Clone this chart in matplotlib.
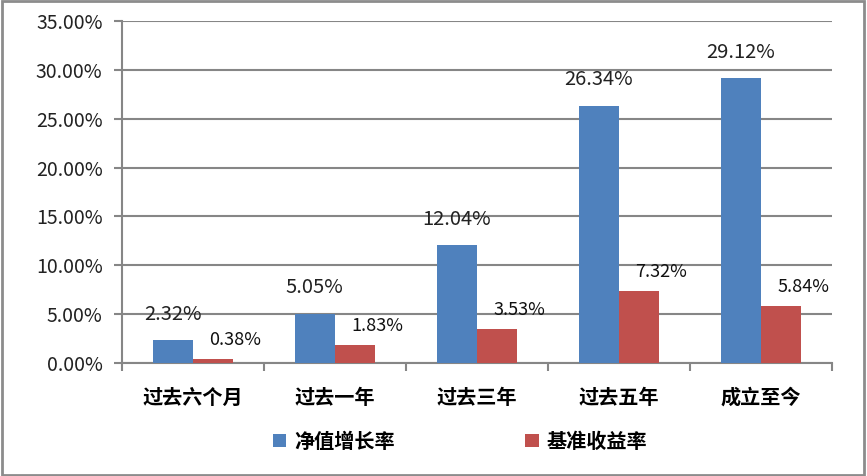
import numpy as np
import matplotlib.pyplot as plt
from matplotlib.patches import Rectangle

plt.rcParams['font.family'] = ['Noto Sans CJK SC', 'DejaVu Sans']

# data
categories = ['过去六个月', '过去一年', '过去三年', '过去五年', '成立至今']
nav_growth = [2.32, 5.05, 12.04, 26.34, 29.12]
benchmark = [0.38, 1.83, 3.53, 7.32, 5.84]
series_names = ['净值增长率', '基准收益率']

blue = '#4F81BD'
red = '#C0504D'
grid_c = '#868686'

fig = plt.figure(figsize=(8.67, 4.76), dpi=100)
ax = fig.add_axes([122/867, 1-363/476, 710/867, 342/476])

x = np.arange(len(categories))
w = 0.285
b1 = ax.bar(x - w/2, nav_growth, w, color=blue, label=series_names[0], zorder=3)
b2 = ax.bar(x + w/2, benchmark, w, color=red, label=series_names[1], zorder=3)

for xi, v in zip(x, nav_growth):
    ax.annotate(f'{v:.2f}%', (xi - w/2, v), xytext=(0, 26), textcoords='offset pixels',
                ha='center', va='center', fontsize=14.5, color='#222222', fontweight='light')
for xi, v in zip(x, benchmark):
    ax.annotate(f'{v:.2f}%', (xi + w/2, v), xytext=(22, 19), textcoords='offset pixels',
                ha='center', va='center', fontsize=13, color='#111111')

ax.set_xlim(-0.5, len(categories) - 0.5)
ax.set_ylim(0, 35)
ax.set_yticks(np.arange(0, 36, 5))
ax.set_yticklabels([f'{t:.2f}%' for t in np.arange(0, 36, 5)], fontsize=14, color='#222222')
ax.yaxis.grid(True, color=grid_c, linewidth=1.5, zorder=0)
ax.tick_params(axis='y', length=6, width=1.5, color=grid_c, direction='out', pad=8)

ax.set_xticks(np.arange(-0.5, len(categories), 1))
ax.set_xticklabels([])
ax.set_xticks(x, minor=True)
ax.set_xticklabels(categories, minor=True, fontsize=14.5, fontweight='bold')
ax.tick_params(axis='x', which='major', length=6, width=1.5, color=grid_c, direction='out')
ax.tick_params(axis='x', which='minor', length=0, pad=17)

for s in ['top', 'right']:
    ax.spines[s].set_visible(False)
for s in ['left', 'bottom']:
    ax.spines[s].set_color(grid_c)
    ax.spines[s].set_linewidth(1.5)

fig.legend(handles=[b1, b2], loc='center', bbox_to_anchor=(460/867, 1-441/476), ncol=2,
           frameon=False, prop={'weight': 'bold', 'size': 14.5},
           handlelength=0.65, handleheight=0.65, columnspacing=6.5, handletextpad=0.4)

fig.patches.append(Rectangle((0.002, 0.003), 0.995, 0.994, transform=fig.transFigure,
                             fill=False, edgecolor='#8c8c8c', linewidth=2))

fig.savefig('out.png', dpi=100)
